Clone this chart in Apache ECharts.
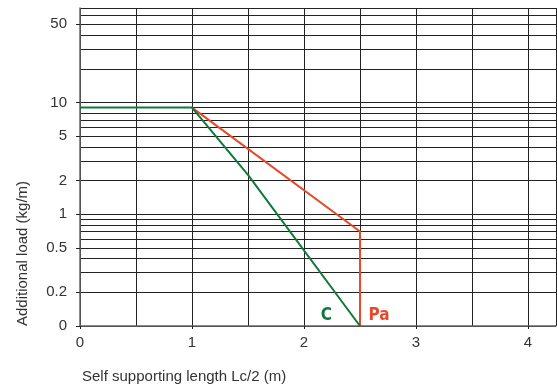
<!DOCTYPE html>
<html>
<head>
<meta charset="utf-8">
<script src="https://cdn.jsdelivr.net/npm/echarts@6/dist/echarts.min.js"></script>
<style>
html,body{margin:0;padding:0;background:#fff;}
#chart{width:557px;height:390px;}
</style>
</head>
<body>
<div id="chart"></div>
<script>
// ---- data ----
const seriesCX = [0, 1, 1.5, 2.5];
const seriesCY = [9, 9, 2.25, 0.1];
const seriesPaX = [1, 2.5, 2.5];
const seriesPaY = [9, 0.7, 0.1];
const yTickValues = [0.1, 0.2, 0.5, 1, 2, 5, 10, 50];
const yTickLabels = ['0', '0.2', '0.5', '1', '2', '5', '10', '50'];
const yGridValues = [0.1,0.2,0.3,0.4,0.5,0.6,0.7,0.8,0.9,1,2,3,4,5,6,7,8,9,10,20,30,40,50,60,70];
const xTickValues = [0, 1, 2, 3, 4];
const xMin = 0, xMax = 4.25, xGridStep = 0.5;
const yMin = 0.1, yMax = 70;
const labelC = { text: 'C', x: 2.2, y: 0.125 };
const labelPa = { text: 'Pa', x: 2.67, y: 0.125 };

const toPairs = (xs, ys) => xs.map((x, i) => [x, ys[i]]);

const chart = echarts.init(document.getElementById('chart'), null, {renderer: 'canvas'});
const font = "'Liberation Sans', Arial, Helvetica, sans-serif";
const boldFont = "'Liberation Sans Narrow', 'DejaVu Sans Condensed', 'Liberation Sans', Arial, sans-serif";
const gridColor = '#222';
const greenColor = '#10793a';
const redColor = '#e8472b';

function labelPoint(lbl, color) {
  return {
    symbol: 'rect', symbolSize: 1, silent: true,
    itemStyle: { color: 'rgba(0,0,0,0)' },
    data: [{ coord: [lbl.x, lbl.y], value: lbl.text }],
    label: { show: true, position: 'inside', formatter: lbl.text, color: color, fontSize: 17, fontWeight: 'bold', fontFamily: boldFont }
  };
}

chart.setOption({
  animation: false,
  backgroundColor: '#fff',
  grid: { left: 80, right: 1, top: 8, bottom: 64, containLabel: false },
  xAxis: [
    {
      type: 'value', min: xMin, max: xMax, interval: xGridStep,
      axisLine: { show: false }, axisTick: { show: false }, axisLabel: { show: false },
      splitLine: { show: true, lineStyle: { color: gridColor, width: 1 } }
    },
    {
      type: 'value', min: xMin, max: xMax, position: 'bottom',
      axisLine: { show: true, onZero: false, lineStyle: { color: '#666', width: 1.5 } },
      axisTick: { show: true, customValues: xTickValues, length: 3, lineStyle: { color: '#222' } },
      axisLabel: { show: true, customValues: xTickValues, margin: 9, color: '#333', fontSize: 15, fontFamily: font },
      splitLine: { show: false }
    }
  ],
  yAxis: [
    {
      type: 'log', logBase: 10, min: yMin, max: yMax,
      axisLine: { show: false },
      axisTick: { show: false, customValues: yGridValues },
      axisLabel: { show: false },
      splitLine: { show: true, lineStyle: { color: gridColor, width: 1 } },
      minorSplitLine: { show: false }
    },
    {
      type: 'log', logBase: 10, min: yMin, max: yMax, position: 'left',
      axisLine: { show: true, onZero: false, lineStyle: { color: '#666', width: 1.5 } },
      axisTick: { show: true, customValues: yTickValues, length: 4, lineStyle: { color: '#222' } },
      axisLabel: {
        show: true, customValues: yTickValues, margin: 13, color: '#333', fontSize: 15, fontFamily: font,
        formatter: v => { const i = yTickValues.findIndex(t => Math.abs(t - v) < 1e-6); return i >= 0 ? yTickLabels[i] : ''; }
      },
      splitLine: { show: false }
    }
  ],
  series: [
    {
      name: 'Pa', type: 'line', xAxisIndex: 0, yAxisIndex: 0,
      data: toPairs(seriesPaX, seriesPaY), symbol: 'none',
      lineStyle: { color: redColor, width: 2 }, z: 3,
      markPoint: labelPoint(labelPa, redColor)
    },
    {
      name: 'C', type: 'line', xAxisIndex: 0, yAxisIndex: 0,
      data: toPairs(seriesCX, seriesCY), symbol: 'none',
      lineStyle: { color: greenColor, width: 2 }, z: 4,
      markPoint: labelPoint(labelC, greenColor)
    }
  ],
  graphic: [
    {
      type: 'text', x: 23, y: 326, rotation: Math.PI / 2,
      style: { text: 'Additional load (kg/m)', fill: '#333', font: "15px " + font, textAlign: 'left', textVerticalAlign: 'middle' }
    },
    {
      type: 'text', x: 82, y: 377,
      style: { text: 'Self supporting length Lc/2 (m)', fill: '#333', font: "15px " + font, textAlign: 'left', textVerticalAlign: 'middle' }
    }
  ]
});
</script>
</body>
</html>
